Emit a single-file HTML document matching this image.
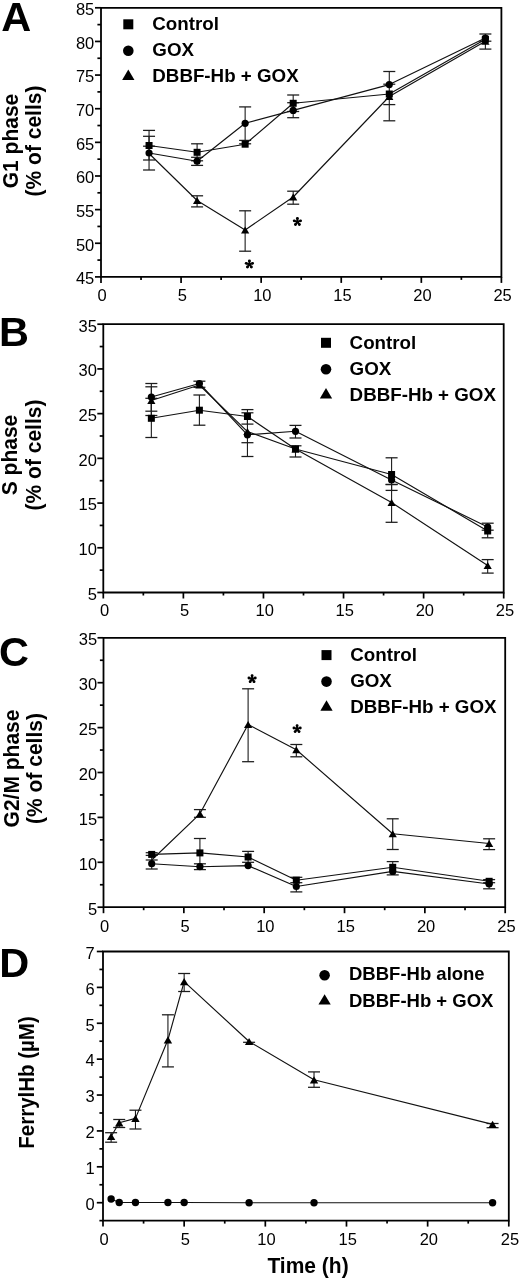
<!DOCTYPE html>
<html><head><meta charset="utf-8"><title>Figure</title>
<style>html,body{margin:0;padding:0;background:#fff;width:520px;height:1279px;overflow:hidden}
svg{filter:grayscale(100%)} svg text{font-family:"Liberation Sans", sans-serif;fill:#000}</style></head>
<body>
<svg width="520" height="1279" viewBox="0 0 520 1279" font-family='"Liberation Sans", sans-serif' style="display:block">
<rect width="520" height="1279" fill="#fff"/>
<path d="M101.00 276.90 L101.00 7.80 L501.40 7.80 L501.40 276.90 Z" fill="none" stroke="#000" stroke-width="1.8"/>
<line x1="95.00" y1="7.80" x2="101.00" y2="7.80" stroke="#000" stroke-width="1.71"/>
<text x="94.30" y="15.10" font-size="16.5" font-weight="normal" text-anchor="end" >85</text>
<line x1="95.00" y1="41.44" x2="101.00" y2="41.44" stroke="#000" stroke-width="1.71"/>
<text x="94.30" y="48.74" font-size="16.5" font-weight="normal" text-anchor="end" >80</text>
<line x1="95.00" y1="75.07" x2="101.00" y2="75.07" stroke="#000" stroke-width="1.71"/>
<text x="94.30" y="82.37" font-size="16.5" font-weight="normal" text-anchor="end" >75</text>
<line x1="95.00" y1="108.71" x2="101.00" y2="108.71" stroke="#000" stroke-width="1.71"/>
<text x="94.30" y="116.01" font-size="16.5" font-weight="normal" text-anchor="end" >70</text>
<line x1="95.00" y1="142.35" x2="101.00" y2="142.35" stroke="#000" stroke-width="1.71"/>
<text x="94.30" y="149.65" font-size="16.5" font-weight="normal" text-anchor="end" >65</text>
<line x1="95.00" y1="175.99" x2="101.00" y2="175.99" stroke="#000" stroke-width="1.71"/>
<text x="94.30" y="183.29" font-size="16.5" font-weight="normal" text-anchor="end" >60</text>
<line x1="95.00" y1="209.62" x2="101.00" y2="209.62" stroke="#000" stroke-width="1.71"/>
<text x="94.30" y="216.93" font-size="16.5" font-weight="normal" text-anchor="end" >55</text>
<line x1="95.00" y1="243.26" x2="101.00" y2="243.26" stroke="#000" stroke-width="1.71"/>
<text x="94.30" y="250.56" font-size="16.5" font-weight="normal" text-anchor="end" >50</text>
<line x1="95.00" y1="276.90" x2="101.00" y2="276.90" stroke="#000" stroke-width="1.71"/>
<text x="94.30" y="284.20" font-size="16.5" font-weight="normal" text-anchor="end" >45</text>
<line x1="97.40" y1="260.08" x2="101.00" y2="260.08" stroke="#000" stroke-width="1.71"/>
<line x1="97.40" y1="226.44" x2="101.00" y2="226.44" stroke="#000" stroke-width="1.71"/>
<line x1="97.40" y1="192.81" x2="101.00" y2="192.81" stroke="#000" stroke-width="1.71"/>
<line x1="97.40" y1="159.17" x2="101.00" y2="159.17" stroke="#000" stroke-width="1.71"/>
<line x1="97.40" y1="125.53" x2="101.00" y2="125.53" stroke="#000" stroke-width="1.71"/>
<line x1="97.40" y1="91.89" x2="101.00" y2="91.89" stroke="#000" stroke-width="1.71"/>
<line x1="97.40" y1="58.26" x2="101.00" y2="58.26" stroke="#000" stroke-width="1.71"/>
<line x1="97.40" y1="24.62" x2="101.00" y2="24.62" stroke="#000" stroke-width="1.71"/>
<line x1="101.00" y1="276.90" x2="101.00" y2="282.90" stroke="#000" stroke-width="1.71"/>
<text x="102.20" y="300.80" font-size="16.5" font-weight="normal" text-anchor="middle" >0</text>
<line x1="181.08" y1="276.90" x2="181.08" y2="282.90" stroke="#000" stroke-width="1.71"/>
<text x="182.28" y="300.80" font-size="16.5" font-weight="normal" text-anchor="middle" >5</text>
<line x1="261.16" y1="276.90" x2="261.16" y2="282.90" stroke="#000" stroke-width="1.71"/>
<text x="262.36" y="300.80" font-size="16.5" font-weight="normal" text-anchor="middle" >10</text>
<line x1="341.24" y1="276.90" x2="341.24" y2="282.90" stroke="#000" stroke-width="1.71"/>
<text x="342.44" y="300.80" font-size="16.5" font-weight="normal" text-anchor="middle" >15</text>
<line x1="421.32" y1="276.90" x2="421.32" y2="282.90" stroke="#000" stroke-width="1.71"/>
<text x="422.52" y="300.80" font-size="16.5" font-weight="normal" text-anchor="middle" >20</text>
<line x1="501.40" y1="276.90" x2="501.40" y2="282.90" stroke="#000" stroke-width="1.71"/>
<text x="502.60" y="300.80" font-size="16.5" font-weight="normal" text-anchor="middle" >25</text>
<line x1="141.04" y1="276.90" x2="141.04" y2="279.90" stroke="#000" stroke-width="1.71"/>
<line x1="221.12" y1="276.90" x2="221.12" y2="279.90" stroke="#000" stroke-width="1.71"/>
<line x1="301.20" y1="276.90" x2="301.20" y2="279.90" stroke="#000" stroke-width="1.71"/>
<line x1="381.28" y1="276.90" x2="381.28" y2="279.90" stroke="#000" stroke-width="1.71"/>
<line x1="461.36" y1="276.90" x2="461.36" y2="279.90" stroke="#000" stroke-width="1.71"/>
<text x="1.20" y="31.20" font-size="41.5" font-weight="bold" text-anchor="start" >A</text>
<text transform="translate(17.50,141.00) rotate(-90) scale(1,1.045)" x="0" y="0" font-size="21" font-weight="bold" text-anchor="middle">G1 phase</text>
<text transform="translate(41.00,141.00) rotate(-90) scale(1,1.045)" x="0" y="0" font-size="21" font-weight="bold" text-anchor="middle">(% of cells)</text>
<rect x="123.30" y="19.30" width="10.00" height="10.00" fill="#000"/>
<text x="152.30" y="30.00" font-size="18.75" font-weight="bold" text-anchor="start" >Control</text>
<circle cx="128.30" cy="50.80" r="5.30" fill="#000"/>
<text x="152.30" y="56.00" font-size="18.75" font-weight="bold" text-anchor="start" >GOX</text>
<path d="M128.30 69.50 L134.45 79.90 L122.15 79.90Z" fill="#000"/>
<text x="152.30" y="82.00" font-size="18.75" font-weight="bold" text-anchor="start" >DBBF-Hb + GOX</text>
<line x1="149.05" y1="130.40" x2="149.05" y2="160.00" stroke="#1c1c1c" stroke-width="1.1"/>
<line x1="143.05" y1="130.40" x2="155.05" y2="130.40" stroke="#1c1c1c" stroke-width="1.265"/>
<line x1="143.05" y1="160.00" x2="155.05" y2="160.00" stroke="#1c1c1c" stroke-width="1.265"/>
<line x1="149.05" y1="136.30" x2="149.05" y2="170.00" stroke="#1c1c1c" stroke-width="1.1"/>
<line x1="143.05" y1="136.30" x2="155.05" y2="136.30" stroke="#1c1c1c" stroke-width="1.265"/>
<line x1="143.05" y1="170.00" x2="155.05" y2="170.00" stroke="#1c1c1c" stroke-width="1.265"/>
<line x1="143.05" y1="146.20" x2="155.05" y2="146.20" stroke="#1c1c1c" stroke-width="1.265"/>
<line x1="197.10" y1="143.80" x2="197.10" y2="160.80" stroke="#1c1c1c" stroke-width="1.1"/>
<line x1="191.10" y1="143.80" x2="203.10" y2="143.80" stroke="#1c1c1c" stroke-width="1.265"/>
<line x1="191.10" y1="160.80" x2="203.10" y2="160.80" stroke="#1c1c1c" stroke-width="1.265"/>
<line x1="197.10" y1="157.30" x2="197.10" y2="165.40" stroke="#1c1c1c" stroke-width="1.1"/>
<line x1="191.10" y1="157.30" x2="203.10" y2="157.30" stroke="#1c1c1c" stroke-width="1.265"/>
<line x1="191.10" y1="165.40" x2="203.10" y2="165.40" stroke="#1c1c1c" stroke-width="1.265"/>
<line x1="197.10" y1="195.80" x2="197.10" y2="206.90" stroke="#1c1c1c" stroke-width="1.1"/>
<line x1="191.10" y1="195.80" x2="203.10" y2="195.80" stroke="#1c1c1c" stroke-width="1.265"/>
<line x1="191.10" y1="206.90" x2="203.10" y2="206.90" stroke="#1c1c1c" stroke-width="1.265"/>
<line x1="245.14" y1="106.90" x2="245.14" y2="140.40" stroke="#1c1c1c" stroke-width="1.1"/>
<line x1="239.14" y1="106.90" x2="251.14" y2="106.90" stroke="#1c1c1c" stroke-width="1.265"/>
<line x1="239.14" y1="140.40" x2="251.14" y2="140.40" stroke="#1c1c1c" stroke-width="1.265"/>
<line x1="239.14" y1="143.80" x2="251.14" y2="143.80" stroke="#1c1c1c" stroke-width="1.265"/>
<line x1="245.14" y1="210.80" x2="245.14" y2="251.20" stroke="#1c1c1c" stroke-width="1.1"/>
<line x1="239.14" y1="210.80" x2="251.14" y2="210.80" stroke="#1c1c1c" stroke-width="1.265"/>
<line x1="239.14" y1="251.20" x2="251.14" y2="251.20" stroke="#1c1c1c" stroke-width="1.265"/>
<line x1="293.19" y1="95.00" x2="293.19" y2="111.50" stroke="#1c1c1c" stroke-width="1.1"/>
<line x1="287.19" y1="95.00" x2="299.19" y2="95.00" stroke="#1c1c1c" stroke-width="1.265"/>
<line x1="287.19" y1="111.50" x2="299.19" y2="111.50" stroke="#1c1c1c" stroke-width="1.265"/>
<line x1="293.19" y1="102.70" x2="293.19" y2="117.70" stroke="#1c1c1c" stroke-width="1.1"/>
<line x1="287.19" y1="102.70" x2="299.19" y2="102.70" stroke="#1c1c1c" stroke-width="1.265"/>
<line x1="287.19" y1="117.70" x2="299.19" y2="117.70" stroke="#1c1c1c" stroke-width="1.265"/>
<line x1="293.19" y1="191.20" x2="293.19" y2="204.20" stroke="#1c1c1c" stroke-width="1.1"/>
<line x1="287.19" y1="191.20" x2="299.19" y2="191.20" stroke="#1c1c1c" stroke-width="1.265"/>
<line x1="287.19" y1="204.20" x2="299.19" y2="204.20" stroke="#1c1c1c" stroke-width="1.265"/>
<line x1="389.29" y1="71.50" x2="389.29" y2="120.80" stroke="#1c1c1c" stroke-width="1.1"/>
<line x1="383.29" y1="71.50" x2="395.29" y2="71.50" stroke="#1c1c1c" stroke-width="1.265"/>
<line x1="383.29" y1="120.80" x2="395.29" y2="120.80" stroke="#1c1c1c" stroke-width="1.265"/>
<line x1="383.29" y1="84.20" x2="395.29" y2="84.20" stroke="#1c1c1c" stroke-width="1.265"/>
<line x1="383.29" y1="104.60" x2="395.29" y2="104.60" stroke="#1c1c1c" stroke-width="1.265"/>
<line x1="485.38" y1="34.00" x2="485.38" y2="49.10" stroke="#1c1c1c" stroke-width="1.1"/>
<line x1="479.38" y1="34.00" x2="491.38" y2="34.00" stroke="#1c1c1c" stroke-width="1.265"/>
<line x1="479.38" y1="49.10" x2="491.38" y2="49.10" stroke="#1c1c1c" stroke-width="1.265"/>
<line x1="479.38" y1="41.20" x2="491.38" y2="41.20" stroke="#1c1c1c" stroke-width="1.265"/>
<polyline points="149.05,153.50 197.10,200.50 245.14,230.00 293.19,197.00 389.29,96.50 485.38,41.30" fill="none" stroke="#111" stroke-width="1.15" stroke-linejoin="round"/>
<polyline points="149.05,153.00 197.10,161.20 245.14,123.30 293.19,110.40 389.29,84.60 485.38,38.00" fill="none" stroke="#111" stroke-width="1.15" stroke-linejoin="round"/>
<polyline points="149.05,145.50 197.10,152.30 245.14,144.20 293.19,103.30 389.29,94.00 485.38,39.30" fill="none" stroke="#111" stroke-width="1.15" stroke-linejoin="round"/>
<path d="M197.10 197.00 L201.20 204.00 L193.00 204.00Z" fill="#000"/>
<path d="M245.14 226.50 L249.24 233.50 L241.04 233.50Z" fill="#000"/>
<path d="M293.19 193.50 L297.29 200.50 L289.09 200.50Z" fill="#000"/>
<path d="M389.29 93.00 L393.39 100.00 L385.19 100.00Z" fill="#000"/>
<path d="M485.38 37.80 L489.48 44.80 L481.28 44.80Z" fill="#000"/>
<circle cx="149.05" cy="153.00" r="3.60" fill="#000"/>
<circle cx="197.10" cy="161.20" r="3.60" fill="#000"/>
<circle cx="245.14" cy="123.30" r="3.60" fill="#000"/>
<circle cx="293.19" cy="110.40" r="3.60" fill="#000"/>
<circle cx="389.29" cy="84.60" r="3.60" fill="#000"/>
<circle cx="485.38" cy="38.00" r="3.60" fill="#000"/>
<rect x="145.55" y="142.00" width="7.00" height="7.00" fill="#000"/>
<rect x="193.60" y="148.80" width="7.00" height="7.00" fill="#000"/>
<rect x="241.64" y="140.70" width="7.00" height="7.00" fill="#000"/>
<rect x="289.69" y="99.80" width="7.00" height="7.00" fill="#000"/>
<rect x="385.79" y="90.50" width="7.00" height="7.00" fill="#000"/>
<rect x="481.88" y="35.80" width="7.00" height="7.00" fill="#000"/>
<g><line x1="249.40" y1="264.35" x2="249.40" y2="261.05" stroke="#000" stroke-width="1.9" stroke-linecap="round"/><circle cx="249.40" cy="261.05" r="1.45" fill="#000"/><line x1="249.40" y1="264.35" x2="252.54" y2="263.33" stroke="#000" stroke-width="1.9" stroke-linecap="round"/><circle cx="252.54" cy="263.33" r="1.45" fill="#000"/><line x1="249.40" y1="264.35" x2="251.34" y2="267.02" stroke="#000" stroke-width="1.9" stroke-linecap="round"/><circle cx="251.34" cy="267.02" r="1.45" fill="#000"/><line x1="249.40" y1="264.35" x2="247.46" y2="267.02" stroke="#000" stroke-width="1.9" stroke-linecap="round"/><circle cx="247.46" cy="267.02" r="1.45" fill="#000"/><line x1="249.40" y1="264.35" x2="246.26" y2="263.33" stroke="#000" stroke-width="1.9" stroke-linecap="round"/><circle cx="246.26" cy="263.33" r="1.45" fill="#000"/><circle cx="249.40" cy="264.35" r="1.6" fill="#000"/></g>
<g><line x1="297.40" y1="221.85" x2="297.40" y2="218.55" stroke="#000" stroke-width="1.9" stroke-linecap="round"/><circle cx="297.40" cy="218.55" r="1.45" fill="#000"/><line x1="297.40" y1="221.85" x2="300.54" y2="220.83" stroke="#000" stroke-width="1.9" stroke-linecap="round"/><circle cx="300.54" cy="220.83" r="1.45" fill="#000"/><line x1="297.40" y1="221.85" x2="299.34" y2="224.52" stroke="#000" stroke-width="1.9" stroke-linecap="round"/><circle cx="299.34" cy="224.52" r="1.45" fill="#000"/><line x1="297.40" y1="221.85" x2="295.46" y2="224.52" stroke="#000" stroke-width="1.9" stroke-linecap="round"/><circle cx="295.46" cy="224.52" r="1.45" fill="#000"/><line x1="297.40" y1="221.85" x2="294.26" y2="220.83" stroke="#000" stroke-width="1.9" stroke-linecap="round"/><circle cx="294.26" cy="220.83" r="1.45" fill="#000"/><circle cx="297.40" cy="221.85" r="1.6" fill="#000"/></g>
<path d="M103.30 592.50 L103.30 324.20 L503.70 324.20 L503.70 592.50 Z" fill="none" stroke="#000" stroke-width="1.8"/>
<line x1="97.30" y1="324.20" x2="103.30" y2="324.20" stroke="#000" stroke-width="1.71"/>
<text x="96.90" y="331.50" font-size="16.5" font-weight="normal" text-anchor="end" >35</text>
<line x1="97.30" y1="368.92" x2="103.30" y2="368.92" stroke="#000" stroke-width="1.71"/>
<text x="96.90" y="376.22" font-size="16.5" font-weight="normal" text-anchor="end" >30</text>
<line x1="97.30" y1="413.63" x2="103.30" y2="413.63" stroke="#000" stroke-width="1.71"/>
<text x="96.90" y="420.93" font-size="16.5" font-weight="normal" text-anchor="end" >25</text>
<line x1="97.30" y1="458.35" x2="103.30" y2="458.35" stroke="#000" stroke-width="1.71"/>
<text x="96.90" y="465.65" font-size="16.5" font-weight="normal" text-anchor="end" >20</text>
<line x1="97.30" y1="503.07" x2="103.30" y2="503.07" stroke="#000" stroke-width="1.71"/>
<text x="96.90" y="510.37" font-size="16.5" font-weight="normal" text-anchor="end" >15</text>
<line x1="97.30" y1="547.78" x2="103.30" y2="547.78" stroke="#000" stroke-width="1.71"/>
<text x="96.90" y="555.08" font-size="16.5" font-weight="normal" text-anchor="end" >10</text>
<line x1="97.30" y1="592.50" x2="103.30" y2="592.50" stroke="#000" stroke-width="1.71"/>
<text x="96.90" y="599.80" font-size="16.5" font-weight="normal" text-anchor="end" >5</text>
<line x1="99.70" y1="570.14" x2="103.30" y2="570.14" stroke="#000" stroke-width="1.71"/>
<line x1="99.70" y1="525.42" x2="103.30" y2="525.42" stroke="#000" stroke-width="1.71"/>
<line x1="99.70" y1="480.71" x2="103.30" y2="480.71" stroke="#000" stroke-width="1.71"/>
<line x1="99.70" y1="435.99" x2="103.30" y2="435.99" stroke="#000" stroke-width="1.71"/>
<line x1="99.70" y1="391.27" x2="103.30" y2="391.27" stroke="#000" stroke-width="1.71"/>
<line x1="99.70" y1="346.56" x2="103.30" y2="346.56" stroke="#000" stroke-width="1.71"/>
<line x1="103.30" y1="592.50" x2="103.30" y2="598.50" stroke="#000" stroke-width="1.71"/>
<text x="104.50" y="616.20" font-size="16.5" font-weight="normal" text-anchor="middle" >0</text>
<line x1="183.38" y1="592.50" x2="183.38" y2="598.50" stroke="#000" stroke-width="1.71"/>
<text x="184.58" y="616.20" font-size="16.5" font-weight="normal" text-anchor="middle" >5</text>
<line x1="263.46" y1="592.50" x2="263.46" y2="598.50" stroke="#000" stroke-width="1.71"/>
<text x="264.66" y="616.20" font-size="16.5" font-weight="normal" text-anchor="middle" >10</text>
<line x1="343.54" y1="592.50" x2="343.54" y2="598.50" stroke="#000" stroke-width="1.71"/>
<text x="344.74" y="616.20" font-size="16.5" font-weight="normal" text-anchor="middle" >15</text>
<line x1="423.62" y1="592.50" x2="423.62" y2="598.50" stroke="#000" stroke-width="1.71"/>
<text x="424.82" y="616.20" font-size="16.5" font-weight="normal" text-anchor="middle" >20</text>
<line x1="503.70" y1="592.50" x2="503.70" y2="598.50" stroke="#000" stroke-width="1.71"/>
<text x="504.90" y="616.20" font-size="16.5" font-weight="normal" text-anchor="middle" >25</text>
<line x1="143.34" y1="592.50" x2="143.34" y2="595.50" stroke="#000" stroke-width="1.71"/>
<line x1="223.42" y1="592.50" x2="223.42" y2="595.50" stroke="#000" stroke-width="1.71"/>
<line x1="303.50" y1="592.50" x2="303.50" y2="595.50" stroke="#000" stroke-width="1.71"/>
<line x1="383.58" y1="592.50" x2="383.58" y2="595.50" stroke="#000" stroke-width="1.71"/>
<line x1="463.66" y1="592.50" x2="463.66" y2="595.50" stroke="#000" stroke-width="1.71"/>
<text x="-1.00" y="346.40" font-size="41.5" font-weight="bold" text-anchor="start" >B</text>
<text transform="translate(17.00,455.00) rotate(-90) scale(1,1.045)" x="0" y="0" font-size="21" font-weight="bold" text-anchor="middle">S phase</text>
<text transform="translate(40.50,455.00) rotate(-90) scale(1,1.045)" x="0" y="0" font-size="21" font-weight="bold" text-anchor="middle">(% of cells)</text>
<rect x="321.00" y="337.80" width="10.00" height="10.00" fill="#000"/>
<text x="349.60" y="348.50" font-size="18.75" font-weight="bold" text-anchor="start" >Control</text>
<circle cx="326.00" cy="369.30" r="5.30" fill="#000"/>
<text x="349.60" y="374.50" font-size="18.75" font-weight="bold" text-anchor="start" >GOX</text>
<path d="M326.00 388.00 L332.15 398.40 L319.85 398.40Z" fill="#000"/>
<text x="349.60" y="400.50" font-size="18.75" font-weight="bold" text-anchor="start" >DBBF-Hb + GOX</text>
<line x1="151.35" y1="383.50" x2="151.35" y2="415.50" stroke="#1c1c1c" stroke-width="1.1"/>
<line x1="145.35" y1="383.50" x2="157.35" y2="383.50" stroke="#1c1c1c" stroke-width="1.265"/>
<line x1="145.35" y1="415.50" x2="157.35" y2="415.50" stroke="#1c1c1c" stroke-width="1.265"/>
<line x1="151.35" y1="386.80" x2="151.35" y2="411.20" stroke="#1c1c1c" stroke-width="1.1"/>
<line x1="145.35" y1="386.80" x2="157.35" y2="386.80" stroke="#1c1c1c" stroke-width="1.265"/>
<line x1="145.35" y1="411.20" x2="157.35" y2="411.20" stroke="#1c1c1c" stroke-width="1.265"/>
<line x1="151.35" y1="398.30" x2="151.35" y2="437.50" stroke="#1c1c1c" stroke-width="1.1"/>
<line x1="145.35" y1="398.30" x2="157.35" y2="398.30" stroke="#1c1c1c" stroke-width="1.265"/>
<line x1="145.35" y1="437.50" x2="157.35" y2="437.50" stroke="#1c1c1c" stroke-width="1.265"/>
<line x1="199.40" y1="381.20" x2="199.40" y2="387.30" stroke="#1c1c1c" stroke-width="1.1"/>
<line x1="193.40" y1="381.20" x2="205.40" y2="381.20" stroke="#1c1c1c" stroke-width="1.265"/>
<line x1="193.40" y1="387.30" x2="205.40" y2="387.30" stroke="#1c1c1c" stroke-width="1.265"/>
<line x1="199.40" y1="395.00" x2="199.40" y2="425.20" stroke="#1c1c1c" stroke-width="1.1"/>
<line x1="193.40" y1="395.00" x2="205.40" y2="395.00" stroke="#1c1c1c" stroke-width="1.265"/>
<line x1="193.40" y1="425.20" x2="205.40" y2="425.20" stroke="#1c1c1c" stroke-width="1.265"/>
<line x1="247.44" y1="409.60" x2="247.44" y2="424.10" stroke="#1c1c1c" stroke-width="1.1"/>
<line x1="241.44" y1="409.60" x2="253.44" y2="409.60" stroke="#1c1c1c" stroke-width="1.265"/>
<line x1="241.44" y1="424.10" x2="253.44" y2="424.10" stroke="#1c1c1c" stroke-width="1.265"/>
<line x1="247.44" y1="412.80" x2="247.44" y2="456.50" stroke="#1c1c1c" stroke-width="1.1"/>
<line x1="241.44" y1="412.80" x2="253.44" y2="412.80" stroke="#1c1c1c" stroke-width="1.265"/>
<line x1="241.44" y1="456.50" x2="253.44" y2="456.50" stroke="#1c1c1c" stroke-width="1.265"/>
<line x1="241.44" y1="442.70" x2="253.44" y2="442.70" stroke="#1c1c1c" stroke-width="1.265"/>
<line x1="295.49" y1="425.40" x2="295.49" y2="438.00" stroke="#1c1c1c" stroke-width="1.1"/>
<line x1="289.49" y1="425.40" x2="301.49" y2="425.40" stroke="#1c1c1c" stroke-width="1.265"/>
<line x1="289.49" y1="438.00" x2="301.49" y2="438.00" stroke="#1c1c1c" stroke-width="1.265"/>
<line x1="295.49" y1="445.80" x2="295.49" y2="457.00" stroke="#1c1c1c" stroke-width="1.1"/>
<line x1="289.49" y1="445.80" x2="301.49" y2="445.80" stroke="#1c1c1c" stroke-width="1.265"/>
<line x1="289.49" y1="457.00" x2="301.49" y2="457.00" stroke="#1c1c1c" stroke-width="1.265"/>
<line x1="391.59" y1="457.80" x2="391.59" y2="490.40" stroke="#1c1c1c" stroke-width="1.1"/>
<line x1="385.59" y1="457.80" x2="397.59" y2="457.80" stroke="#1c1c1c" stroke-width="1.265"/>
<line x1="385.59" y1="490.40" x2="397.59" y2="490.40" stroke="#1c1c1c" stroke-width="1.265"/>
<line x1="385.59" y1="484.50" x2="397.59" y2="484.50" stroke="#1c1c1c" stroke-width="1.265"/>
<line x1="391.59" y1="484.50" x2="391.59" y2="522.30" stroke="#1c1c1c" stroke-width="1.1"/>
<line x1="385.59" y1="484.50" x2="397.59" y2="484.50" stroke="#1c1c1c" stroke-width="1.265"/>
<line x1="385.59" y1="522.30" x2="397.59" y2="522.30" stroke="#1c1c1c" stroke-width="1.265"/>
<line x1="487.68" y1="523.20" x2="487.68" y2="537.80" stroke="#1c1c1c" stroke-width="1.1"/>
<line x1="481.68" y1="523.20" x2="493.68" y2="523.20" stroke="#1c1c1c" stroke-width="1.265"/>
<line x1="481.68" y1="537.80" x2="493.68" y2="537.80" stroke="#1c1c1c" stroke-width="1.265"/>
<line x1="481.68" y1="530.20" x2="493.68" y2="530.20" stroke="#1c1c1c" stroke-width="1.265"/>
<line x1="487.68" y1="559.60" x2="487.68" y2="573.10" stroke="#1c1c1c" stroke-width="1.1"/>
<line x1="481.68" y1="559.60" x2="493.68" y2="559.60" stroke="#1c1c1c" stroke-width="1.265"/>
<line x1="481.68" y1="573.10" x2="493.68" y2="573.10" stroke="#1c1c1c" stroke-width="1.265"/>
<polyline points="151.35,400.50 199.40,385.00 247.44,431.60 295.49,449.00 391.59,502.50 487.68,565.50" fill="none" stroke="#111" stroke-width="1.15" stroke-linejoin="round"/>
<polyline points="151.35,397.00 199.40,383.50 247.44,434.80 295.49,431.30 391.59,480.00 487.68,527.00" fill="none" stroke="#111" stroke-width="1.15" stroke-linejoin="round"/>
<polyline points="151.35,418.30 199.40,410.20 247.44,416.50 295.49,449.00 391.59,474.50 487.68,531.00" fill="none" stroke="#111" stroke-width="1.15" stroke-linejoin="round"/>
<path d="M151.35 397.00 L155.45 404.00 L147.25 404.00Z" fill="#000"/>
<path d="M199.40 381.50 L203.50 388.50 L195.30 388.50Z" fill="#000"/>
<path d="M247.44 428.10 L251.54 435.10 L243.34 435.10Z" fill="#000"/>
<path d="M295.49 445.50 L299.59 452.50 L291.39 452.50Z" fill="#000"/>
<path d="M391.59 499.00 L395.69 506.00 L387.49 506.00Z" fill="#000"/>
<path d="M487.68 562.00 L491.78 569.00 L483.58 569.00Z" fill="#000"/>
<circle cx="151.35" cy="397.00" r="3.60" fill="#000"/>
<circle cx="199.40" cy="383.50" r="3.60" fill="#000"/>
<circle cx="247.44" cy="434.80" r="3.60" fill="#000"/>
<circle cx="295.49" cy="431.30" r="3.60" fill="#000"/>
<circle cx="391.59" cy="480.00" r="3.60" fill="#000"/>
<circle cx="487.68" cy="527.00" r="3.60" fill="#000"/>
<rect x="147.85" y="414.80" width="7.00" height="7.00" fill="#000"/>
<rect x="195.90" y="406.70" width="7.00" height="7.00" fill="#000"/>
<rect x="243.94" y="413.00" width="7.00" height="7.00" fill="#000"/>
<rect x="291.99" y="445.50" width="7.00" height="7.00" fill="#000"/>
<rect x="388.09" y="471.00" width="7.00" height="7.00" fill="#000"/>
<rect x="484.18" y="527.50" width="7.00" height="7.00" fill="#000"/>
<path d="M103.50 907.20 L103.50 637.80 L505.20 637.80 L505.20 907.20 Z" fill="none" stroke="#000" stroke-width="1.8"/>
<line x1="97.50" y1="637.80" x2="103.50" y2="637.80" stroke="#000" stroke-width="1.71"/>
<text x="97.20" y="645.10" font-size="16.5" font-weight="normal" text-anchor="end" >35</text>
<line x1="97.50" y1="682.70" x2="103.50" y2="682.70" stroke="#000" stroke-width="1.71"/>
<text x="97.20" y="690.00" font-size="16.5" font-weight="normal" text-anchor="end" >30</text>
<line x1="97.50" y1="727.60" x2="103.50" y2="727.60" stroke="#000" stroke-width="1.71"/>
<text x="97.20" y="734.90" font-size="16.5" font-weight="normal" text-anchor="end" >25</text>
<line x1="97.50" y1="772.50" x2="103.50" y2="772.50" stroke="#000" stroke-width="1.71"/>
<text x="97.20" y="779.80" font-size="16.5" font-weight="normal" text-anchor="end" >20</text>
<line x1="97.50" y1="817.40" x2="103.50" y2="817.40" stroke="#000" stroke-width="1.71"/>
<text x="97.20" y="824.70" font-size="16.5" font-weight="normal" text-anchor="end" >15</text>
<line x1="97.50" y1="862.30" x2="103.50" y2="862.30" stroke="#000" stroke-width="1.71"/>
<text x="97.20" y="869.60" font-size="16.5" font-weight="normal" text-anchor="end" >10</text>
<line x1="97.50" y1="907.20" x2="103.50" y2="907.20" stroke="#000" stroke-width="1.71"/>
<text x="97.20" y="914.50" font-size="16.5" font-weight="normal" text-anchor="end" >5</text>
<line x1="99.90" y1="884.75" x2="103.50" y2="884.75" stroke="#000" stroke-width="1.71"/>
<line x1="99.90" y1="839.85" x2="103.50" y2="839.85" stroke="#000" stroke-width="1.71"/>
<line x1="99.90" y1="794.95" x2="103.50" y2="794.95" stroke="#000" stroke-width="1.71"/>
<line x1="99.90" y1="750.05" x2="103.50" y2="750.05" stroke="#000" stroke-width="1.71"/>
<line x1="99.90" y1="705.15" x2="103.50" y2="705.15" stroke="#000" stroke-width="1.71"/>
<line x1="99.90" y1="660.25" x2="103.50" y2="660.25" stroke="#000" stroke-width="1.71"/>
<line x1="103.50" y1="907.20" x2="103.50" y2="913.20" stroke="#000" stroke-width="1.71"/>
<text x="104.70" y="931.50" font-size="16.5" font-weight="normal" text-anchor="middle" >0</text>
<line x1="183.84" y1="907.20" x2="183.84" y2="913.20" stroke="#000" stroke-width="1.71"/>
<text x="185.04" y="931.50" font-size="16.5" font-weight="normal" text-anchor="middle" >5</text>
<line x1="264.18" y1="907.20" x2="264.18" y2="913.20" stroke="#000" stroke-width="1.71"/>
<text x="265.38" y="931.50" font-size="16.5" font-weight="normal" text-anchor="middle" >10</text>
<line x1="344.52" y1="907.20" x2="344.52" y2="913.20" stroke="#000" stroke-width="1.71"/>
<text x="345.72" y="931.50" font-size="16.5" font-weight="normal" text-anchor="middle" >15</text>
<line x1="424.86" y1="907.20" x2="424.86" y2="913.20" stroke="#000" stroke-width="1.71"/>
<text x="426.06" y="931.50" font-size="16.5" font-weight="normal" text-anchor="middle" >20</text>
<line x1="505.20" y1="907.20" x2="505.20" y2="913.20" stroke="#000" stroke-width="1.71"/>
<text x="506.40" y="931.50" font-size="16.5" font-weight="normal" text-anchor="middle" >25</text>
<line x1="143.67" y1="907.20" x2="143.67" y2="910.20" stroke="#000" stroke-width="1.71"/>
<line x1="224.01" y1="907.20" x2="224.01" y2="910.20" stroke="#000" stroke-width="1.71"/>
<line x1="304.35" y1="907.20" x2="304.35" y2="910.20" stroke="#000" stroke-width="1.71"/>
<line x1="384.69" y1="907.20" x2="384.69" y2="910.20" stroke="#000" stroke-width="1.71"/>
<line x1="465.03" y1="907.20" x2="465.03" y2="910.20" stroke="#000" stroke-width="1.71"/>
<text x="-1.00" y="665.60" font-size="41.5" font-weight="bold" text-anchor="start" >C</text>
<text transform="translate(18.50,768.50) rotate(-90) scale(1,1.045)" x="0" y="0" font-size="21" font-weight="bold" text-anchor="middle">G2/M phase</text>
<text transform="translate(42.00,768.50) rotate(-90) scale(1,1.045)" x="0" y="0" font-size="21" font-weight="bold" text-anchor="middle">(% of cells)</text>
<rect x="321.50" y="650.10" width="10.00" height="10.00" fill="#000"/>
<text x="350.20" y="660.80" font-size="18.75" font-weight="bold" text-anchor="start" >Control</text>
<circle cx="326.50" cy="681.60" r="5.30" fill="#000"/>
<text x="350.20" y="686.80" font-size="18.75" font-weight="bold" text-anchor="start" >GOX</text>
<path d="M326.50 700.30 L332.65 710.70 L320.35 710.70Z" fill="#000"/>
<text x="350.20" y="712.80" font-size="18.75" font-weight="bold" text-anchor="start" >DBBF-Hb + GOX</text>
<line x1="151.70" y1="852.70" x2="151.70" y2="869.00" stroke="#1c1c1c" stroke-width="1.1"/>
<line x1="145.70" y1="852.70" x2="157.70" y2="852.70" stroke="#1c1c1c" stroke-width="1.265"/>
<line x1="145.70" y1="869.00" x2="157.70" y2="869.00" stroke="#1c1c1c" stroke-width="1.265"/>
<line x1="145.70" y1="855.40" x2="157.70" y2="855.40" stroke="#1c1c1c" stroke-width="1.265"/>
<line x1="145.70" y1="860.00" x2="157.70" y2="860.00" stroke="#1c1c1c" stroke-width="1.265"/>
<line x1="199.91" y1="838.50" x2="199.91" y2="869.60" stroke="#1c1c1c" stroke-width="1.1"/>
<line x1="193.91" y1="838.50" x2="205.91" y2="838.50" stroke="#1c1c1c" stroke-width="1.265"/>
<line x1="193.91" y1="869.60" x2="205.91" y2="869.60" stroke="#1c1c1c" stroke-width="1.265"/>
<line x1="193.91" y1="863.80" x2="205.91" y2="863.80" stroke="#1c1c1c" stroke-width="1.265"/>
<line x1="199.91" y1="809.60" x2="199.91" y2="817.30" stroke="#1c1c1c" stroke-width="1.1"/>
<line x1="193.91" y1="809.60" x2="205.91" y2="809.60" stroke="#1c1c1c" stroke-width="1.265"/>
<line x1="193.91" y1="817.30" x2="205.91" y2="817.30" stroke="#1c1c1c" stroke-width="1.265"/>
<line x1="248.11" y1="851.40" x2="248.11" y2="862.30" stroke="#1c1c1c" stroke-width="1.1"/>
<line x1="242.11" y1="851.40" x2="254.11" y2="851.40" stroke="#1c1c1c" stroke-width="1.265"/>
<line x1="242.11" y1="862.30" x2="254.11" y2="862.30" stroke="#1c1c1c" stroke-width="1.265"/>
<line x1="248.11" y1="688.80" x2="248.11" y2="761.70" stroke="#1c1c1c" stroke-width="1.1"/>
<line x1="242.11" y1="688.80" x2="254.11" y2="688.80" stroke="#1c1c1c" stroke-width="1.265"/>
<line x1="242.11" y1="761.70" x2="254.11" y2="761.70" stroke="#1c1c1c" stroke-width="1.265"/>
<line x1="296.32" y1="877.30" x2="296.32" y2="891.90" stroke="#1c1c1c" stroke-width="1.1"/>
<line x1="290.32" y1="877.30" x2="302.32" y2="877.30" stroke="#1c1c1c" stroke-width="1.265"/>
<line x1="290.32" y1="891.90" x2="302.32" y2="891.90" stroke="#1c1c1c" stroke-width="1.265"/>
<line x1="290.32" y1="882.70" x2="302.32" y2="882.70" stroke="#1c1c1c" stroke-width="1.265"/>
<line x1="296.32" y1="744.50" x2="296.32" y2="756.80" stroke="#1c1c1c" stroke-width="1.1"/>
<line x1="290.32" y1="744.50" x2="302.32" y2="744.50" stroke="#1c1c1c" stroke-width="1.265"/>
<line x1="290.32" y1="756.80" x2="302.32" y2="756.80" stroke="#1c1c1c" stroke-width="1.265"/>
<line x1="392.72" y1="861.60" x2="392.72" y2="874.90" stroke="#1c1c1c" stroke-width="1.1"/>
<line x1="386.72" y1="861.60" x2="398.72" y2="861.60" stroke="#1c1c1c" stroke-width="1.265"/>
<line x1="386.72" y1="874.90" x2="398.72" y2="874.90" stroke="#1c1c1c" stroke-width="1.265"/>
<line x1="392.72" y1="818.80" x2="392.72" y2="849.50" stroke="#1c1c1c" stroke-width="1.1"/>
<line x1="386.72" y1="818.80" x2="398.72" y2="818.80" stroke="#1c1c1c" stroke-width="1.265"/>
<line x1="386.72" y1="849.50" x2="398.72" y2="849.50" stroke="#1c1c1c" stroke-width="1.265"/>
<line x1="489.13" y1="879.60" x2="489.13" y2="888.80" stroke="#1c1c1c" stroke-width="1.1"/>
<line x1="483.13" y1="879.60" x2="495.13" y2="879.60" stroke="#1c1c1c" stroke-width="1.265"/>
<line x1="483.13" y1="888.80" x2="495.13" y2="888.80" stroke="#1c1c1c" stroke-width="1.265"/>
<line x1="483.13" y1="882.70" x2="495.13" y2="882.70" stroke="#1c1c1c" stroke-width="1.265"/>
<line x1="489.13" y1="838.80" x2="489.13" y2="849.60" stroke="#1c1c1c" stroke-width="1.1"/>
<line x1="483.13" y1="838.80" x2="495.13" y2="838.80" stroke="#1c1c1c" stroke-width="1.265"/>
<line x1="483.13" y1="849.60" x2="495.13" y2="849.60" stroke="#1c1c1c" stroke-width="1.265"/>
<polyline points="151.70,860.00 199.91,813.80 248.11,724.60 296.32,749.80 392.72,833.80 489.13,843.50" fill="none" stroke="#111" stroke-width="1.15" stroke-linejoin="round"/>
<polyline points="151.70,863.70 199.91,866.70 248.11,865.60 296.32,886.50 392.72,871.40 489.13,884.00" fill="none" stroke="#111" stroke-width="1.15" stroke-linejoin="round"/>
<polyline points="151.70,854.40 199.91,852.90 248.11,857.00 296.32,880.20 392.72,867.30 489.13,881.30" fill="none" stroke="#111" stroke-width="1.15" stroke-linejoin="round"/>
<path d="M199.91 810.30 L204.01 817.30 L195.81 817.30Z" fill="#000"/>
<path d="M248.11 721.10 L252.21 728.10 L244.01 728.10Z" fill="#000"/>
<path d="M296.32 746.30 L300.42 753.30 L292.22 753.30Z" fill="#000"/>
<path d="M392.72 830.30 L396.82 837.30 L388.62 837.30Z" fill="#000"/>
<path d="M489.13 840.00 L493.23 847.00 L485.03 847.00Z" fill="#000"/>
<circle cx="151.70" cy="863.70" r="3.60" fill="#000"/>
<circle cx="199.91" cy="866.70" r="3.60" fill="#000"/>
<circle cx="248.11" cy="865.60" r="3.60" fill="#000"/>
<circle cx="296.32" cy="886.50" r="3.60" fill="#000"/>
<circle cx="392.72" cy="871.40" r="3.60" fill="#000"/>
<circle cx="489.13" cy="884.00" r="3.60" fill="#000"/>
<rect x="148.20" y="850.90" width="7.00" height="7.00" fill="#000"/>
<rect x="196.41" y="849.40" width="7.00" height="7.00" fill="#000"/>
<rect x="244.61" y="853.50" width="7.00" height="7.00" fill="#000"/>
<rect x="292.82" y="876.70" width="7.00" height="7.00" fill="#000"/>
<rect x="389.22" y="863.80" width="7.00" height="7.00" fill="#000"/>
<rect x="485.63" y="877.80" width="7.00" height="7.00" fill="#000"/>
<g><line x1="252.10" y1="679.00" x2="252.10" y2="675.70" stroke="#000" stroke-width="1.9" stroke-linecap="round"/><circle cx="252.10" cy="675.70" r="1.45" fill="#000"/><line x1="252.10" y1="679.00" x2="255.24" y2="677.98" stroke="#000" stroke-width="1.9" stroke-linecap="round"/><circle cx="255.24" cy="677.98" r="1.45" fill="#000"/><line x1="252.10" y1="679.00" x2="254.04" y2="681.67" stroke="#000" stroke-width="1.9" stroke-linecap="round"/><circle cx="254.04" cy="681.67" r="1.45" fill="#000"/><line x1="252.10" y1="679.00" x2="250.16" y2="681.67" stroke="#000" stroke-width="1.9" stroke-linecap="round"/><circle cx="250.16" cy="681.67" r="1.45" fill="#000"/><line x1="252.10" y1="679.00" x2="248.96" y2="677.98" stroke="#000" stroke-width="1.9" stroke-linecap="round"/><circle cx="248.96" cy="677.98" r="1.45" fill="#000"/><circle cx="252.10" cy="679.00" r="1.6" fill="#000"/></g>
<g><line x1="297.10" y1="728.95" x2="297.10" y2="725.65" stroke="#000" stroke-width="1.9" stroke-linecap="round"/><circle cx="297.10" cy="725.65" r="1.45" fill="#000"/><line x1="297.10" y1="728.95" x2="300.24" y2="727.93" stroke="#000" stroke-width="1.9" stroke-linecap="round"/><circle cx="300.24" cy="727.93" r="1.45" fill="#000"/><line x1="297.10" y1="728.95" x2="299.04" y2="731.62" stroke="#000" stroke-width="1.9" stroke-linecap="round"/><circle cx="299.04" cy="731.62" r="1.45" fill="#000"/><line x1="297.10" y1="728.95" x2="295.16" y2="731.62" stroke="#000" stroke-width="1.9" stroke-linecap="round"/><circle cx="295.16" cy="731.62" r="1.45" fill="#000"/><line x1="297.10" y1="728.95" x2="293.96" y2="727.93" stroke="#000" stroke-width="1.9" stroke-linecap="round"/><circle cx="293.96" cy="727.93" r="1.45" fill="#000"/><circle cx="297.10" cy="728.95" r="1.6" fill="#000"/></g>
<path d="M103.00 1220.60 L103.00 951.50 L508.80 951.50 L508.80 1220.60 Z" fill="none" stroke="#000" stroke-width="1.8"/>
<line x1="96.80" y1="951.50" x2="103.00" y2="951.50" stroke="#000" stroke-width="1.71"/>
<text x="94.60" y="958.80" font-size="16.5" font-weight="normal" text-anchor="end" >7</text>
<line x1="96.80" y1="987.39" x2="103.00" y2="987.39" stroke="#000" stroke-width="1.71"/>
<text x="94.60" y="994.69" font-size="16.5" font-weight="normal" text-anchor="end" >6</text>
<line x1="96.80" y1="1023.27" x2="103.00" y2="1023.27" stroke="#000" stroke-width="1.71"/>
<text x="94.60" y="1030.57" font-size="16.5" font-weight="normal" text-anchor="end" >5</text>
<line x1="96.80" y1="1059.16" x2="103.00" y2="1059.16" stroke="#000" stroke-width="1.71"/>
<text x="94.60" y="1066.46" font-size="16.5" font-weight="normal" text-anchor="end" >4</text>
<line x1="96.80" y1="1095.04" x2="103.00" y2="1095.04" stroke="#000" stroke-width="1.71"/>
<text x="94.60" y="1102.34" font-size="16.5" font-weight="normal" text-anchor="end" >3</text>
<line x1="96.80" y1="1130.93" x2="103.00" y2="1130.93" stroke="#000" stroke-width="1.71"/>
<text x="94.60" y="1138.23" font-size="16.5" font-weight="normal" text-anchor="end" >2</text>
<line x1="96.80" y1="1166.81" x2="103.00" y2="1166.81" stroke="#000" stroke-width="1.71"/>
<text x="94.60" y="1174.11" font-size="16.5" font-weight="normal" text-anchor="end" >1</text>
<line x1="96.80" y1="1202.70" x2="103.00" y2="1202.70" stroke="#000" stroke-width="1.71"/>
<text x="94.60" y="1210.00" font-size="16.5" font-weight="normal" text-anchor="end" >0</text>
<line x1="99.40" y1="1220.64" x2="103.00" y2="1220.64" stroke="#000" stroke-width="1.71"/>
<line x1="99.40" y1="1184.76" x2="103.00" y2="1184.76" stroke="#000" stroke-width="1.71"/>
<line x1="99.40" y1="1148.87" x2="103.00" y2="1148.87" stroke="#000" stroke-width="1.71"/>
<line x1="99.40" y1="1112.99" x2="103.00" y2="1112.99" stroke="#000" stroke-width="1.71"/>
<line x1="99.40" y1="1077.10" x2="103.00" y2="1077.10" stroke="#000" stroke-width="1.71"/>
<line x1="99.40" y1="1041.21" x2="103.00" y2="1041.21" stroke="#000" stroke-width="1.71"/>
<line x1="99.40" y1="1005.33" x2="103.00" y2="1005.33" stroke="#000" stroke-width="1.71"/>
<line x1="99.40" y1="969.44" x2="103.00" y2="969.44" stroke="#000" stroke-width="1.71"/>
<line x1="103.00" y1="1220.60" x2="103.00" y2="1226.60" stroke="#000" stroke-width="1.71"/>
<text x="104.20" y="1245.20" font-size="16.5" font-weight="normal" text-anchor="middle" >0</text>
<line x1="184.16" y1="1220.60" x2="184.16" y2="1226.60" stroke="#000" stroke-width="1.71"/>
<text x="185.36" y="1245.20" font-size="16.5" font-weight="normal" text-anchor="middle" >5</text>
<line x1="265.32" y1="1220.60" x2="265.32" y2="1226.60" stroke="#000" stroke-width="1.71"/>
<text x="266.52" y="1245.20" font-size="16.5" font-weight="normal" text-anchor="middle" >10</text>
<line x1="346.48" y1="1220.60" x2="346.48" y2="1226.60" stroke="#000" stroke-width="1.71"/>
<text x="347.68" y="1245.20" font-size="16.5" font-weight="normal" text-anchor="middle" >15</text>
<line x1="427.64" y1="1220.60" x2="427.64" y2="1226.60" stroke="#000" stroke-width="1.71"/>
<text x="428.84" y="1245.20" font-size="16.5" font-weight="normal" text-anchor="middle" >20</text>
<line x1="508.80" y1="1220.60" x2="508.80" y2="1226.60" stroke="#000" stroke-width="1.71"/>
<text x="510.00" y="1245.20" font-size="16.5" font-weight="normal" text-anchor="middle" >25</text>
<line x1="143.58" y1="1220.60" x2="143.58" y2="1223.60" stroke="#000" stroke-width="1.71"/>
<line x1="224.74" y1="1220.60" x2="224.74" y2="1223.60" stroke="#000" stroke-width="1.71"/>
<line x1="305.90" y1="1220.60" x2="305.90" y2="1223.60" stroke="#000" stroke-width="1.71"/>
<line x1="387.06" y1="1220.60" x2="387.06" y2="1223.60" stroke="#000" stroke-width="1.71"/>
<line x1="468.22" y1="1220.60" x2="468.22" y2="1223.60" stroke="#000" stroke-width="1.71"/>
<text x="-0.80" y="977.20" font-size="41.5" font-weight="bold" text-anchor="start" >D</text>
<text transform="translate(33.50,1082.50) rotate(-90) scale(1,1.045)" x="0" y="0" font-size="20.5" font-weight="bold" text-anchor="middle">FerrylHb (&#181;M)</text>
<circle cx="324.60" cy="975.20" r="5.30" fill="#000"/>
<text x="349.00" y="980.40" font-size="18.5" font-weight="bold" text-anchor="start" >DBBF-Hb alone</text>
<path d="M324.60 994.20 L330.75 1004.60 L318.45 1004.60Z" fill="#000"/>
<text x="349.00" y="1006.70" font-size="18.5" font-weight="bold" text-anchor="start" >DBBF-Hb + GOX</text>
<text transform="translate(308.0,1273.0) scale(1,1.045)" x="0" y="0" font-size="21" font-weight="bold" text-anchor="middle">Time (h)</text>
<line x1="111.12" y1="1132.70" x2="111.12" y2="1142.20" stroke="#1c1c1c" stroke-width="1.1"/>
<line x1="105.12" y1="1132.70" x2="117.12" y2="1132.70" stroke="#1c1c1c" stroke-width="1.265"/>
<line x1="105.12" y1="1142.20" x2="117.12" y2="1142.20" stroke="#1c1c1c" stroke-width="1.265"/>
<line x1="119.23" y1="1119.50" x2="119.23" y2="1127.50" stroke="#1c1c1c" stroke-width="1.1"/>
<line x1="113.23" y1="1119.50" x2="125.23" y2="1119.50" stroke="#1c1c1c" stroke-width="1.265"/>
<line x1="113.23" y1="1127.50" x2="125.23" y2="1127.50" stroke="#1c1c1c" stroke-width="1.265"/>
<line x1="135.46" y1="1110.20" x2="135.46" y2="1129.00" stroke="#1c1c1c" stroke-width="1.1"/>
<line x1="129.46" y1="1110.20" x2="141.46" y2="1110.20" stroke="#1c1c1c" stroke-width="1.265"/>
<line x1="129.46" y1="1129.00" x2="141.46" y2="1129.00" stroke="#1c1c1c" stroke-width="1.265"/>
<line x1="167.93" y1="1014.80" x2="167.93" y2="1066.90" stroke="#1c1c1c" stroke-width="1.1"/>
<line x1="161.93" y1="1014.80" x2="173.93" y2="1014.80" stroke="#1c1c1c" stroke-width="1.265"/>
<line x1="161.93" y1="1066.90" x2="173.93" y2="1066.90" stroke="#1c1c1c" stroke-width="1.265"/>
<line x1="184.16" y1="973.50" x2="184.16" y2="991.50" stroke="#1c1c1c" stroke-width="1.1"/>
<line x1="178.16" y1="973.50" x2="190.16" y2="973.50" stroke="#1c1c1c" stroke-width="1.265"/>
<line x1="178.16" y1="991.50" x2="190.16" y2="991.50" stroke="#1c1c1c" stroke-width="1.265"/>
<line x1="243.09" y1="1042.30" x2="255.09" y2="1042.30" stroke="#1c1c1c" stroke-width="1.265"/>
<line x1="314.02" y1="1071.90" x2="314.02" y2="1087.30" stroke="#1c1c1c" stroke-width="1.1"/>
<line x1="308.02" y1="1071.90" x2="320.02" y2="1071.90" stroke="#1c1c1c" stroke-width="1.265"/>
<line x1="308.02" y1="1087.30" x2="320.02" y2="1087.30" stroke="#1c1c1c" stroke-width="1.265"/>
<line x1="486.57" y1="1123.50" x2="498.57" y2="1123.50" stroke="#1c1c1c" stroke-width="1.265"/>
<line x1="486.57" y1="1127.70" x2="498.57" y2="1127.70" stroke="#1c1c1c" stroke-width="1.265"/>
<polyline points="111.12,1199.00 119.23,1202.50 135.46,1202.50 167.93,1202.50 184.16,1202.50 249.09,1202.70 314.02,1202.70 492.57,1202.80" fill="none" stroke="#111" stroke-width="1.1" stroke-linejoin="round"/>
<polyline points="111.12,1136.50 119.23,1122.80 135.46,1118.40 167.93,1039.80 184.16,981.60 249.09,1041.50 314.02,1079.80 492.57,1124.40" fill="none" stroke="#111" stroke-width="1.15" stroke-linejoin="round"/>
<circle cx="111.12" cy="1199.00" r="3.70" fill="#000"/>
<circle cx="119.23" cy="1202.50" r="3.70" fill="#000"/>
<circle cx="135.46" cy="1202.50" r="3.70" fill="#000"/>
<circle cx="167.93" cy="1202.50" r="3.70" fill="#000"/>
<circle cx="184.16" cy="1202.50" r="3.70" fill="#000"/>
<circle cx="249.09" cy="1202.70" r="3.70" fill="#000"/>
<circle cx="314.02" cy="1202.70" r="3.70" fill="#000"/>
<circle cx="492.57" cy="1202.80" r="3.70" fill="#000"/>
<path d="M111.12 1132.90 L115.32 1140.10 L106.92 1140.10Z" fill="#000"/>
<path d="M119.23 1119.20 L123.43 1126.40 L115.03 1126.40Z" fill="#000"/>
<path d="M135.46 1114.80 L139.66 1122.00 L131.26 1122.00Z" fill="#000"/>
<path d="M167.93 1036.20 L172.13 1043.40 L163.73 1043.40Z" fill="#000"/>
<path d="M184.16 978.00 L188.36 985.20 L179.96 985.20Z" fill="#000"/>
<path d="M249.09 1037.90 L253.29 1045.10 L244.89 1045.10Z" fill="#000"/>
<path d="M314.02 1076.20 L318.22 1083.40 L309.82 1083.40Z" fill="#000"/>
<path d="M492.57 1120.80 L496.77 1128.00 L488.37 1128.00Z" fill="#000"/>
</svg>
</body></html>
